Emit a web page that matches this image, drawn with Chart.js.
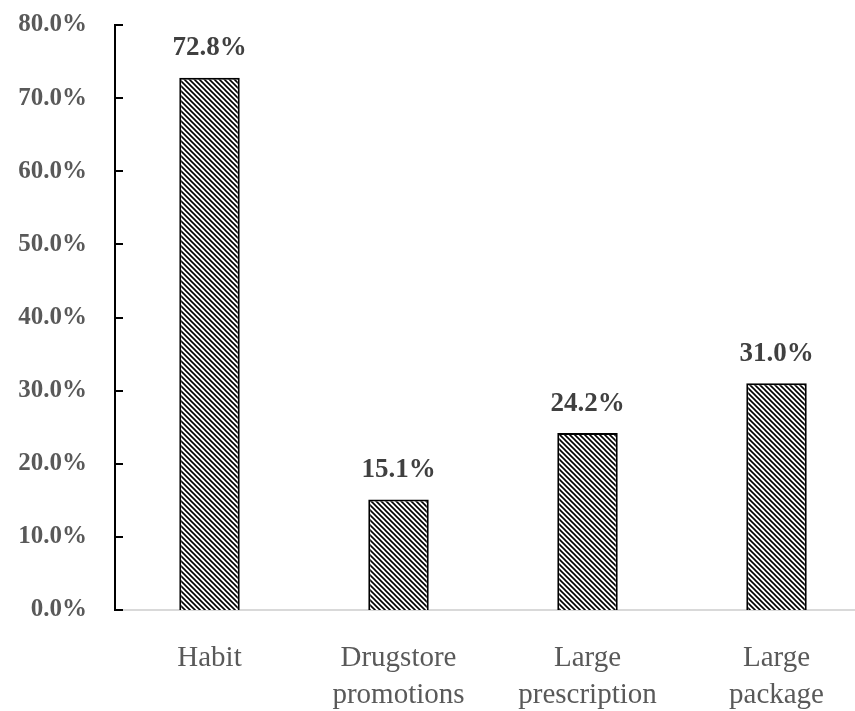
<!DOCTYPE html>
<html>
<head>
<meta charset="utf-8">
<script src="https://cdn.jsdelivr.net/npm/chart.js@4"></script>
<style>
  body { margin: 0; background: #fff; overflow: hidden; }
  canvas { display: block; }
</style>
</head>
<body>
<canvas id="barChart" width="875" height="711"></canvas>
<script>
const categories = [['Habit'], ['Drugstore', 'promotions'], ['Large', 'prescription'], ['Large', 'package']];
const shares = [72.8, 15.1, 24.2, 31.0];
const yTicks = [0, 10, 20, 30, 40, 50, 60, 70, 80];

// diagonal hatch fill, lines running top-left to bottom-right
function makeHatch() {
    const t = document.createElement('canvas');
    t.width = 5; t.height = 5;
    const c = t.getContext('2d');
    c.fillStyle = '#fff';
    c.fillRect(0, 0, 5, 5);
    c.strokeStyle = '#000';
    c.lineWidth = 1.6;
    c.beginPath();
    c.moveTo(-1, -1); c.lineTo(6, 6);
    c.moveTo(-1, 4); c.lineTo(1, 6);
    c.moveTo(4, -1); c.lineTo(6, 1);
    c.stroke();
    return c.createPattern(t, 'repeat');
}

const ctx = document.getElementById('barChart').getContext('2d');

// value labels above bars + inward ticks on y axis
const extras = {
    id: 'extras',
    afterDatasetsDraw(chart) {
        const c = chart.ctx;
        const y = chart.scales.y;
        c.save();
        c.strokeStyle = '#000';
        c.lineWidth = 2;
        yTicks.forEach(v => {
            const py = Math.round(y.getPixelForValue(v));
            c.beginPath();
            c.moveTo(y.right, py);
            c.lineTo(y.right + 8, py);
            c.stroke();
        });
        c.fillStyle = '#404040';
        c.font = 'bold 27px "Liberation Serif"';
        c.textAlign = 'center';
        c.textBaseline = 'bottom';
        chart.getDatasetMeta(0).data.forEach((bar, i) => {
            c.fillText(shares[i].toFixed(1) + '%', bar.x, bar.y - 16);
        });
        c.restore();
    }
};

new Chart(ctx, {
    type: 'bar',
    data: {
        labels: categories,
        datasets: [{
            data: shares,
            backgroundColor: makeHatch(),
            borderColor: '#000',
            borderWidth: 2,
            barPercentage: 0.32,
            categoryPercentage: 1
        }]
    },
    options: {
        responsive: false,
        animation: false,
        layout: { padding: { top: 25, right: 4, left: 0, bottom: 0 } },
        plugins: { legend: { display: false }, tooltip: { enabled: false } },
        scales: {
            x: {
                grid: { display: false },
                border: { color: '#d9d9d9', width: 2 },
                ticks: {
                    color: '#595959',
                    font: { family: 'Liberation Serif', size: 29, lineHeight: 1.27 },
                    padding: 22,
                    maxRotation: 0
                },
                afterFit(scale) { scale.height = 101; }
            },
            y: {
                min: 0,
                max: 80,
                grid: { display: false },
                border: { color: '#000', width: 2 },
                ticks: {
                    stepSize: 10,
                    color: '#595959',
                    font: { family: 'Liberation Serif', size: 25, weight: 'bold' },
                    padding: 20,
                    callback: v => v.toFixed(1) + '%'
                },
                afterFit(scale) {
                    scale.width = 115;
                    scale.paddingTop = 12;
                    scale.paddingBottom = 12;
                }
            }
        }
    },
    plugins: [extras]
});
</script>
</body>
</html>
